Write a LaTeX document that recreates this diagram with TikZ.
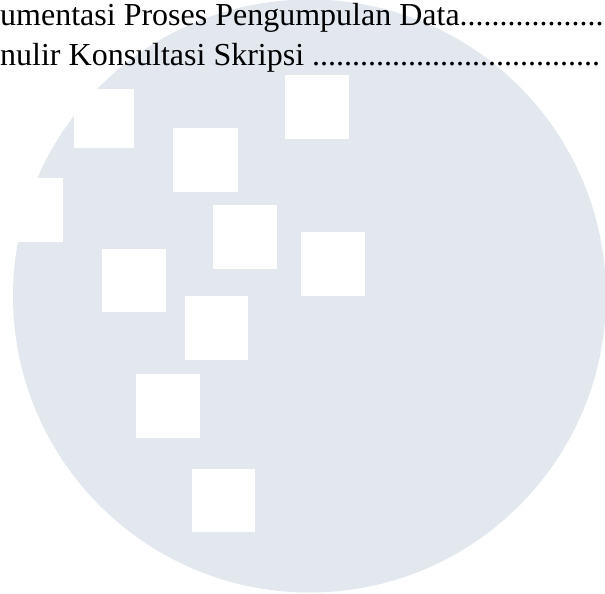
\documentclass[tikz,border=0pt]{standalone}
\usepackage{fontspec}
\setmainfont{Liberation Serif}
\definecolor{disc}{HTML}{E3E7EE}
\begin{document}
\begin{tikzpicture}[x=1pt,y=-1pt,
  hole/.style={fill=white,draw=none},
  tocline/.style={anchor=base west,inner sep=0pt,font=\fontsize{32}{32}\selectfont,text=black}]
\useasboundingbox (0,0) rectangle (605,594);
\clip (0,0) rectangle (605,594);
\fill[white] (0,0) rectangle (605,594);
\fill[disc] (309.5,296) circle[radius=296.5];
\foreach \xa/\ya/\xb/\yb in {74/89/134/148,173/128/238/192,285/75/349/139,213/205/277/269,301/232/365/296,102/249/166/312,184.5/296/248/360,136/374/200/438,191.5/469/255/532,0/178/63/242}
  \fill[hole] (\xa,\ya) rectangle (\xb,\yb);
\node[tocline] (first) at (0,26) {umentasi Proses Pengumpulan Data..................};
\node[tocline] (second) at (0,66) {nulir Konsultasi Skripsi ....................................};
\end{tikzpicture}
\end{document}
